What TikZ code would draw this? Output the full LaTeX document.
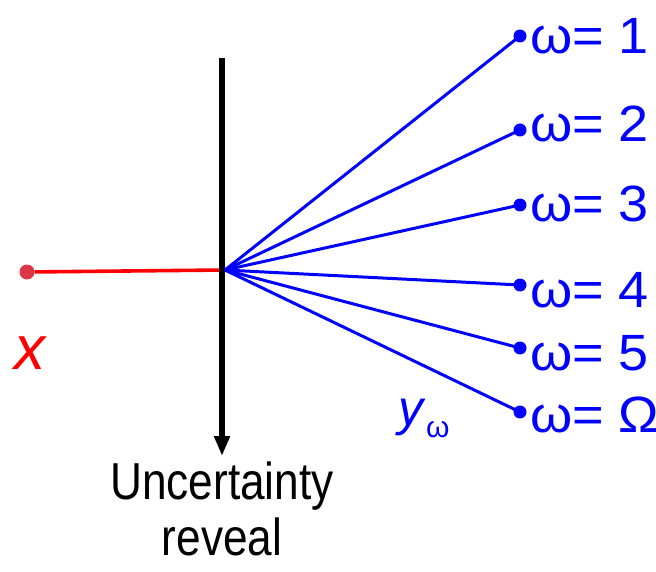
\documentclass[tikz,border=0pt]{standalone}
\usepackage{fontspec}
\setmainfont{Liberation Sans}
\newfontfamily\narrowfont[FakeStretch=0.85]{Liberation Sans}
\newfontfamily\widefont[FakeStretch=1.06]{Liberation Sans}
\usetikzlibrary{arrows.meta,positioning}

\definecolor{dotred}{RGB}{220,53,69}

\begin{document}
\begin{tikzpicture}[
x=1pt, y=-1pt,
branch/.style={blue, line width=3pt},
leaf/.style={circle, fill=blue, inner sep=0pt, minimum size=13pt},
scen/.style={anchor=base west, inner sep=0pt, text=blue, font=\widefont\fontsize{51}{55}\selectfont},
>={Triangle[length=20pt, width=15pt]}
]
\useasboundingbox (0,0) rectangle (656,572);

% first stage
\node[circle, fill=dotred, inner sep=0pt, minimum size=15pt] (x0) at (27,272) {};
\coordinate (hub) at (225,270);
\node[text=red, font=\fontsize{62}{70}\selectfont\itshape] (xlab) at (30,353) {x};
\draw[red, line width=3.6pt] (x0) -- (hub);

% uncertainty reveal
\coordinate (top) at (222,58);
\coordinate (bot) at (222,456);
\draw[->, line width=5.5pt] (top) -- (bot);
\node[align=center, font=\narrowfont\fontsize{52}{56}\selectfont, below=2pt of bot] (reveal) {Uncertainty\\reveal};

% scenarios
\node[leaf] (w1) at (520,36) {};
\node[leaf] (w2) at (520,130) {};
\node[leaf] (w3) at (520,205) {};
\node[leaf] (w4) at (520,285) {};
\node[leaf] (w5) at (520,348) {};
\node[leaf] (w6) at (520,412) {};

\node[scen] (l1) at (530,54) {ω= 1};
\node[scen] (l2) at (530,142) {ω= 2};
\node[scen] (l3) at (530,222) {ω= 3};
\node[scen] (l4) at (530,307) {ω= 4};
\node[scen] (l5) at (530,370) {ω= 5};
\node[scen] (l6) at (530,432) {ω= Ω};

\draw[branch] (hub) -- (w1.center);
\draw[branch] (hub) -- (w2.center);
\draw[branch] (hub) -- (w3.center);
\draw[branch] (hub) -- (w4.center);
\draw[branch] (hub) -- (w5.center);
\draw[branch] (hub) -- (w6.center);

\node[text=blue, font=\fontsize{50}{55}\selectfont] (ylab) at (424,418) {\textit{y}\raisebox{-12pt}{\fontsize{30}{32}\selectfont ω}};
\end{tikzpicture}
\end{document}
